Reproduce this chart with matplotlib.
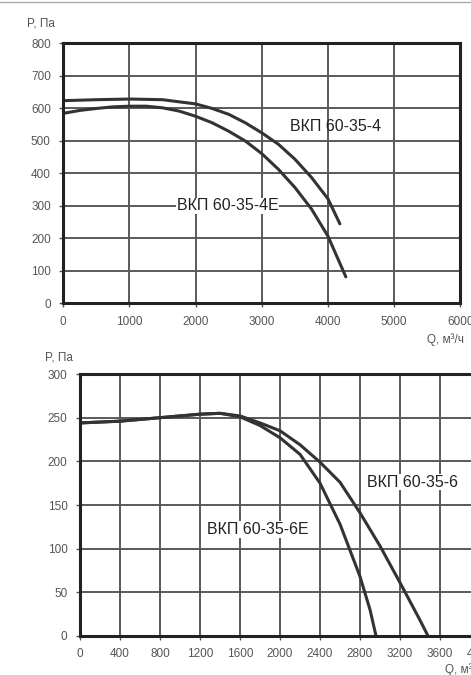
import matplotlib
matplotlib.use("Agg")
import matplotlib.pyplot as plt

plt.rcParams['font.family'] = ['Liberation Sans', 'DejaVu Sans']

# top chart: ВКП 60-35-4 / 4Е  (Q, м³/ч ; P, Па)
q4 = [0, 500, 1000, 1500, 2000, 2250, 2500, 2750, 3000, 3250, 3500, 3750, 4000, 4180]
p4 = [624, 627, 629, 627, 614, 600, 582, 556, 525, 490, 444, 388, 322, 245]
q4e = [0, 250, 500, 750, 1000, 1250, 1500, 1750, 2000, 2250, 2500, 2750, 3000,
       3250, 3500, 3750, 4000, 4270]
p4e = [585, 594, 600, 605, 607, 607, 602, 592, 576, 556, 530, 500, 461,
       413, 357, 291, 207, 82]

# bottom chart: ВКП 60-35-6 / 6Е
q6 = [0, 400, 800, 1200, 1400, 1600, 1800, 2000, 2200, 2400, 2600, 2800, 3000,
      3200, 3400, 3480]
p6 = [244, 246, 250, 254, 255, 252, 244, 235, 219, 199, 176, 141, 103, 61, 18, 0]
q6e = [0, 400, 800, 1200, 1400, 1600, 1800, 2000, 2200, 2400, 2600, 2800, 2900, 2960]
p6e = [244, 246, 250, 254, 255, 251, 241, 227, 208, 175, 128, 68, 30, 0]

top_xticks = [0, 1000, 2000, 3000, 4000, 5000, 6000]
top_yticks = [0, 100, 200, 300, 400, 500, 600, 700, 800]
bot_xticks = [0, 400, 800, 1200, 1600, 2000, 2400, 2800, 3200, 3600, 4000]
bot_yticks = [0, 50, 100, 150, 200, 250, 300]

fig = plt.figure(figsize=(4.71, 6.75), dpi=100)
fig.add_artist(plt.Line2D([0, 1], [0.997, 0.997], color='#aaaaaa', lw=1))


def style(ax, xt, yt, xl, yl):
    ax.set_xlim(*xl)
    ax.set_ylim(*yl)
    ax.set_xticks(xt)
    ax.set_yticks(yt)
    ax.grid(True, color='#5a5a5a', lw=1.4)
    ax.set_axisbelow(True)
    for s in ax.spines.values():
        s.set_linewidth(2.2)
        s.set_color('#222222')
    ax.tick_params(length=3, width=1, color='#555555', labelsize=8.5,
                   labelcolor='#555555', pad=6)


ax1 = fig.add_axes([0.1344, 0.5504, 0.8429, 0.3852])
style(ax1, top_xticks, top_yticks, (0, 6000), (0, 800))
ax1.plot(q4, p4, color='#333333', lw=2.2, solid_capstyle='round')
ax1.plot(q4e, p4e, color='#333333', lw=2.2, solid_capstyle='round')
ax1.text(3425, 543, 'ВКП 60-35-4', fontsize=11.5, color='#222222', va='center')
ax1.text(1717, 301, 'ВКП 60-35-4Е', fontsize=11.5, color='#222222', va='center',
         bbox=dict(facecolor='white', edgecolor='none', pad=0.5))
fig.text(27 / 471, 1 - 24 / 675, 'P, Па', fontsize=8.5, color='#555555', va='center')
fig.text(427 / 471, 1 - 340 / 675, 'Q, м³/ч', fontsize=8.5, color='#555555', va='center')

ax2 = fig.add_axes([0.1699, 0.0578, 0.8493, 0.3881])
style(ax2, bot_xticks, bot_yticks, (0, 4000), (0, 300))
ax2.plot(q6, p6, color='#333333', lw=2.2, solid_capstyle='round')
ax2.plot(q6e, p6e, color='#333333', lw=2.2, solid_capstyle='round')
ax2.text(2870, 176, 'ВКП 60-35-6', fontsize=11.5, color='#222222', va='center',
         bbox=dict(facecolor='white', edgecolor='none', pad=0.5))
ax2.text(1270, 122, 'ВКП 60-35-6Е', fontsize=11.5, color='#222222', va='center',
         bbox=dict(facecolor='white', edgecolor='none', pad=0.5))
fig.text(45 / 471, 1 - 357 / 675, 'P, Па', fontsize=8.5, color='#555555', va='center')
fig.text(445 / 471, 1 - 670 / 675, 'Q, м³/ч', fontsize=8.5, color='#555555', va='center')

fig.savefig('out.png', dpi=100)
